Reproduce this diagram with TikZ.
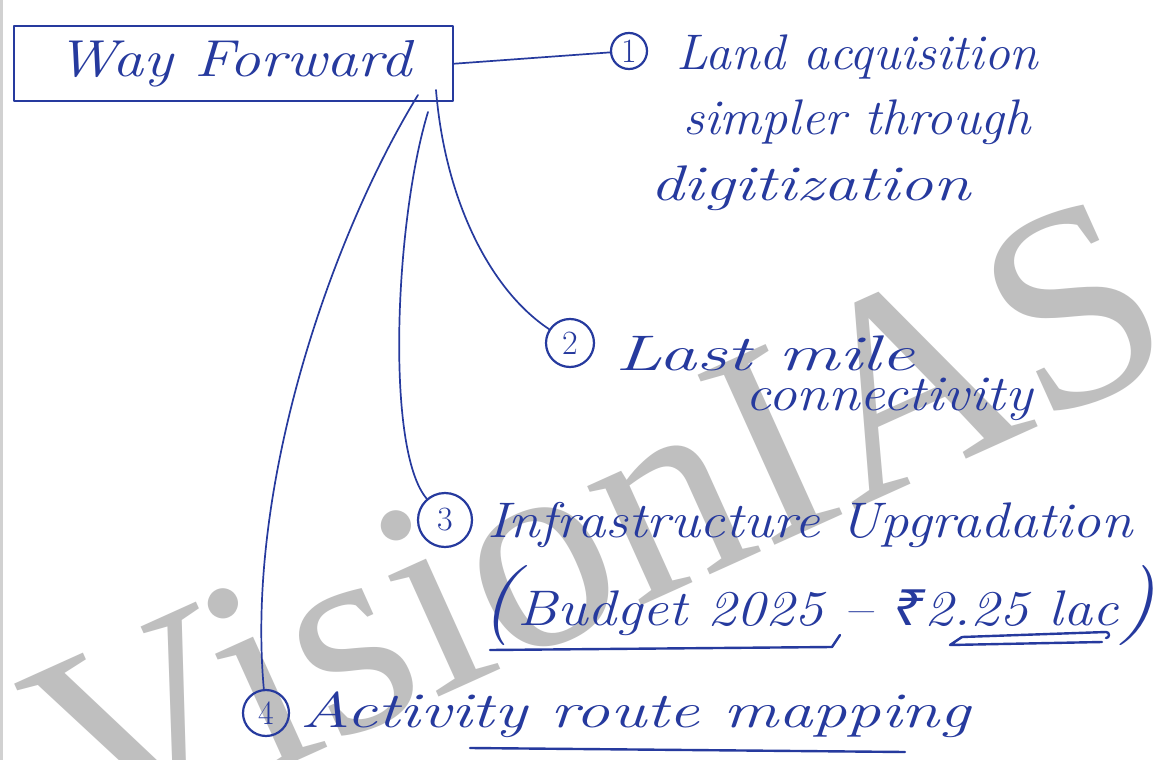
\documentclass[tikz,border=0pt]{standalone}
\usepackage{fontspec}
\usepackage{graphicx}
\newfontfamily\wmfont{Liberation Serif}
\newfontfamily\symfont{Noto Sans}
\definecolor{ink}{RGB}{38,58,158}
\definecolor{wmgray}{RGB}{191,191,191}
\newcommand\hw[2]{\resizebox{#1pt}{\height}{#2}}
\begin{document}
\begin{tikzpicture}[x=1pt,y=-1pt,
  line cap=round, line join=round,
  hand/.style={font=\fontsize{50}{60}\selectfont\itshape, text=ink, inner sep=0pt, anchor=base west},
  num/.style={draw=ink, line width=2.2pt, circle, inner sep=0pt, font=\fontsize{34}{34}\selectfont, text=ink},
  conn/.style={draw=ink, line width=1.7pt},
  uline/.style={draw=ink, line width=2.4pt},
  wm/.style={font=\wmfont\fontsize{285}{285}\selectfont, text=wmgray, inner sep=0pt, anchor=base west, rotate=24.3}]
\useasboundingbox (0,0) rectangle (1160,760);
\clip (0,0) rectangle (1160,760);
\fill[white] (0,0) rectangle (1160,760);
\draw[black!18, line width=3pt] (1.5,0) -- (1.5,760);
% watermark
\node[wm] (wm) at (88.5,855.3) {VisionIAS};
% central box
\node[draw=ink, line width=2.4pt, rectangle, minimum width=439pt, minimum height=75pt,
      inner xsep=27pt, font=\fontsize{52}{60}\selectfont\itshape, text=ink, anchor=north west]
      (wf) at (13,25) {\hw{355}{Way Forward}\hspace{30pt}};
% numbered circles
\node[num, minimum size=36pt] (c1) at (629,51) {1};
\node[num, minimum size=48pt] (c2) at (570,343) {2};
\node[num, minimum size=54pt] (c3) at (445,520) {3};
\node[num, minimum size=46pt] (c4) at (266,713) {4};
% texts
\node[hand] (t1a) at (676,70) {\hw{362}{Land acquisition}};
\node[hand] (t1b) at (683,135) {\hw{347}{simpler through}};
\node[hand] (t1c) at (650,200) {\hw{320}{digitization}};
\node[hand] (t2a) at (615,370) {\hw{300}{Last mile}};
\node[hand] (t2b) at (745,410) {\hw{287}{connectivity}};
\node[hand] (t3a) at (487,537) {\hw{645}{Infrastructure Upgradation}};
\node[hand] (t3b) at (480,625) {\hw{675}{{\fontsize{80}{80}\selectfont(}Budget 2025 -- {\symfont ₹}2.25 lac{\fontsize{80}{80}\selectfont)}}};
\node[hand] (t4) at (300,727) {\hw{670}{Activity route mapping}};
% connector start points on the box
\coordinate (s2) at (436,90);
\coordinate (s3) at (428,112);
\coordinate (s4) at (418,95);
% connectors
\draw[conn] (wf.east) -- (c1);
\draw[conn] (s2) .. controls (445,200) and (490,290) .. (c2);
\draw[conn] (s3) .. controls (395,220) and (385,450) .. (c3);
\draw[conn] (s4) .. controls (335,230) and (245,480) .. (c4);
% underlines
\draw[uline] (490,650) -- (832,647) -- (840,635);
\draw[uline] (962,637) -- (1106,632) arc[start angle=-90, end angle=90, radius=3];
\draw[uline] (962,637) -- (950,645) -- (1102,642);
\draw[uline] (470,748) -- (905,752);
\end{tikzpicture}
\end{document}
